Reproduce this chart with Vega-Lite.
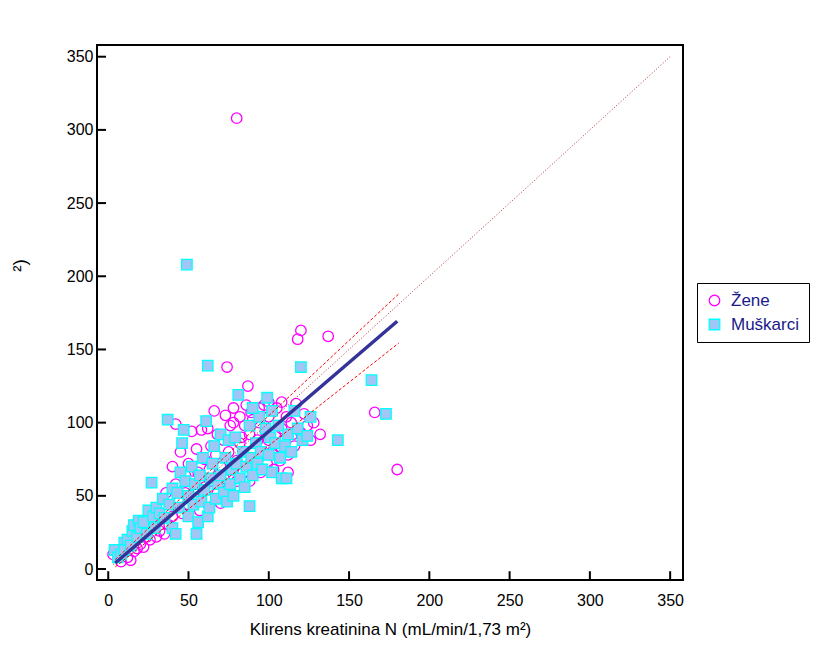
{
  "$schema": "https://vega.github.io/schema/vega-lite/v6.json",
  "autosize": "none",
  "width": 586,
  "height": 535,
  "padding": {"left": 97, "top": 45, "right": 144, "bottom": 90},
  "background": "white",
  "config": {
    "font": "Liberation Sans",
    "view": {"stroke": "black", "strokeWidth": 2}
  },
  "datasets": {
    "pts": [
      {"x":3,"y":10,"g":"Žene"},{"x":8,"y":5,"g":"Žene"},{"x":12,"y":8,"g":"Žene"},{"x":14,"y":6,"g":"Žene"},{"x":16,"y":12,"g":"Žene"},{"x":18,"y":14,"g":"Žene"},{"x":20,"y":17,"g":"Žene"},{"x":22,"y":15,"g":"Žene"},{"x":24,"y":22,"g":"Žene"},{"x":26,"y":20,"g":"Žene"},{"x":28,"y":30,"g":"Žene"},{"x":30,"y":34,"g":"Žene"},{"x":30,"y":22,"g":"Žene"},{"x":32,"y":26,"g":"Žene"},{"x":34,"y":44,"g":"Žene"},{"x":35,"y":24,"g":"Žene"},{"x":36,"y":52,"g":"Žene"},{"x":38,"y":30,"g":"Žene"},{"x":40,"y":70,"g":"Žene"},{"x":40,"y":36,"g":"Žene"},
      {"x":42,"y":99,"g":"Žene"},{"x":42,"y":58,"g":"Žene"},{"x":44,"y":46,"g":"Žene"},{"x":45,"y":80,"g":"Žene"},{"x":46,"y":38,"g":"Žene"},{"x":48,"y":64,"g":"Žene"},{"x":48,"y":52,"g":"Žene"},{"x":50,"y":72,"g":"Žene"},{"x":50,"y":44,"g":"Žene"},{"x":52,"y":94,"g":"Žene"},{"x":52,"y":60,"g":"Žene"},{"x":54,"y":48,"g":"Žene"},{"x":55,"y":82,"g":"Žene"},{"x":56,"y":66,"g":"Žene"},{"x":57,"y":40,"g":"Žene"},{"x":58,"y":95,"g":"Žene"},{"x":60,"y":75,"g":"Žene"},{"x":60,"y":56,"g":"Žene"},{"x":62,"y":96,"g":"Žene"},{"x":62,"y":49,"g":"Žene"},{"x":63,"y":68,"g":"Žene"},{"x":64,"y":84,"g":"Žene"},{"x":65,"y":60,"g":"Žene"},{"x":66,"y":108,"g":"Žene"},{"x":67,"y":78,"g":"Žene"},{"x":68,"y":52,"g":"Žene"},{"x":68,"y":92,"g":"Žene"},{"x":70,"y":70,"g":"Žene"},{"x":70,"y":45,"g":"Žene"},{"x":72,"y":88,"g":"Žene"},{"x":72,"y":62,"g":"Žene"},{"x":73,"y":105,"g":"Žene"},{"x":74,"y":138,"g":"Žene"},{"x":75,"y":80,"g":"Žene"},{"x":75,"y":55,"g":"Žene"},{"x":76,"y":98,"g":"Žene"},{"x":77,"y":68,"g":"Žene"},{"x":78,"y":100,"g":"Žene"},{"x":78,"y":110,"g":"Žene"},{"x":80,"y":308,"g":"Žene"},{"x":80,"y":74,"g":"Žene"},{"x":80,"y":60,"g":"Žene"},{"x":82,"y":104,"g":"Žene"},{"x":82,"y":86,"g":"Žene"},{"x":83,"y":90,"g":"Žene"},{"x":84,"y":66,"g":"Žene"},{"x":85,"y":98,"g":"Žene"},{"x":86,"y":76,"g":"Žene"},{"x":87,"y":125,"g":"Žene"},{"x":88,"y":92,"g":"Žene"},{"x":88,"y":60,"g":"Žene"},{"x":89,"y":107,"g":"Žene"},{"x":90,"y":80,"g":"Žene"},{"x":90,"y":102,"g":"Žene"},{"x":92,"y":70,"g":"Žene"},{"x":93,"y":88,"g":"Žene"},{"x":94,"y":100,"g":"Žene"},{"x":95,"y":66,"g":"Žene"},{"x":96,"y":80,"g":"Žene"},{"x":97,"y":112,"g":"Žene"},{"x":98,"y":94,"g":"Žene"},{"x":99,"y":72,"g":"Žene"},{"x":100,"y":88,"g":"Žene"},{"x":100,"y":104,"g":"Žene"},{"x":102,"y":80,"g":"Žene"},{"x":103,"y":68,"g":"Žene"},{"x":104,"y":92,"g":"Žene"},{"x":105,"y":110,"g":"Žene"},{"x":106,"y":84,"g":"Žene"},{"x":107,"y":74,"g":"Žene"},{"x":108,"y":96,"g":"Žene"},{"x":108,"y":114,"g":"Žene"},{"x":110,"y":88,"g":"Žene"},{"x":111,"y":104,"g":"Žene"},{"x":112,"y":78,"g":"Žene"},{"x":114,"y":100,"g":"Žene"},{"x":115,"y":92,"g":"Žene"},{"x":116,"y":84,"g":"Žene"},{"x":117,"y":113,"g":"Žene"},{"x":118,"y":157,"g":"Žene"},{"x":120,"y":163,"g":"Žene"},{"x":120,"y":93,"g":"Žene"},{"x":122,"y":106,"g":"Žene"},{"x":124,"y":98,"g":"Žene"},{"x":126,"y":88,"g":"Žene"},{"x":128,"y":100,"g":"Žene"},{"x":132,"y":92,"g":"Žene"},{"x":137,"y":159,"g":"Žene"},{"x":166,"y":107,"g":"Žene"},{"x":180,"y":68,"g":"Žene"},{"x":112,"y":66,"g":"Žene"},{"x":100,"y":114,"g":"Žene"},{"x":86,"y":112,"g":"Žene"},{"x":94,"y":110,"g":"Žene"},
      {"x":4,"y":13,"g":"Muškarci"},{"x":6,"y":8,"g":"Muškarci"},{"x":8,"y":10,"g":"Muškarci"},{"x":10,"y":18,"g":"Muškarci"},{"x":10,"y":13,"g":"Muškarci"},{"x":12,"y":20,"g":"Muškarci"},{"x":14,"y":16,"g":"Muškarci"},{"x":15,"y":26,"g":"Muškarci"},{"x":16,"y":30,"g":"Muškarci"},{"x":18,"y":22,"g":"Muškarci"},{"x":19,"y":33,"g":"Muškarci"},{"x":20,"y":28,"g":"Muškarci"},{"x":22,"y":32,"g":"Muškarci"},{"x":24,"y":24,"g":"Muškarci"},{"x":25,"y":40,"g":"Muškarci"},{"x":27,"y":59,"g":"Muškarci"},{"x":28,"y":36,"g":"Muškarci"},{"x":29,"y":28,"g":"Muškarci"},{"x":30,"y":42,"g":"Muškarci"},{"x":32,"y":38,"g":"Muškarci"},{"x":34,"y":48,"g":"Muškarci"},{"x":35,"y":35,"g":"Muškarci"},{"x":37,"y":102,"g":"Muškarci"},{"x":38,"y":44,"g":"Muškarci"},{"x":40,"y":55,"g":"Muškarci"},{"x":40,"y":28,"g":"Muškarci"},{"x":42,"y":24,"g":"Muškarci"},{"x":43,"y":52,"g":"Muškarci"},{"x":44,"y":42,"g":"Muškarci"},{"x":45,"y":66,"g":"Muškarci"},{"x":46,"y":86,"g":"Muškarci"},{"x":47,"y":95,"g":"Muškarci"},{"x":48,"y":60,"g":"Muškarci"},{"x":49,"y":208,"g":"Muškarci"},{"x":50,"y":50,"g":"Muškarci"},{"x":50,"y":36,"g":"Muškarci"},{"x":52,"y":70,"g":"Muškarci"},{"x":53,"y":44,"g":"Muškarci"},{"x":54,"y":58,"g":"Muškarci"},{"x":55,"y":24,"g":"Muškarci"},{"x":56,"y":32,"g":"Muškarci"},{"x":57,"y":64,"g":"Muškarci"},{"x":58,"y":46,"g":"Muškarci"},{"x":59,"y":76,"g":"Muškarci"},{"x":60,"y":54,"g":"Muškarci"},{"x":61,"y":101,"g":"Muškarci"},{"x":62,"y":139,"g":"Muškarci"},{"x":62,"y":36,"g":"Muškarci"},{"x":63,"y":42,"g":"Muškarci"},{"x":64,"y":62,"g":"Muškarci"},{"x":65,"y":72,"g":"Muškarci"},{"x":66,"y":84,"g":"Muškarci"},{"x":67,"y":48,"g":"Muškarci"},{"x":68,"y":58,"g":"Muškarci"},{"x":70,"y":92,"g":"Muškarci"},{"x":70,"y":64,"g":"Muškarci"},{"x":72,"y":52,"g":"Muškarci"},{"x":73,"y":76,"g":"Muškarci"},{"x":74,"y":46,"g":"Muškarci"},{"x":75,"y":88,"g":"Muškarci"},{"x":76,"y":58,"g":"Muškarci"},{"x":77,"y":68,"g":"Muškarci"},{"x":78,"y":50,"g":"Muškarci"},{"x":79,"y":90,"g":"Muškarci"},{"x":80,"y":72,"g":"Muškarci"},{"x":81,"y":119,"g":"Muškarci"},{"x":82,"y":62,"g":"Muškarci"},{"x":84,"y":80,"g":"Muškarci"},{"x":85,"y":56,"g":"Muškarci"},{"x":86,"y":70,"g":"Muškarci"},{"x":88,"y":43,"g":"Muškarci"},{"x":88,"y":98,"g":"Muškarci"},{"x":89,"y":76,"g":"Muškarci"},{"x":90,"y":64,"g":"Muškarci"},{"x":92,"y":86,"g":"Muškarci"},{"x":93,"y":72,"g":"Muškarci"},{"x":94,"y":104,"g":"Muškarci"},{"x":95,"y":80,"g":"Muškarci"},{"x":96,"y":68,"g":"Muškarci"},{"x":98,"y":96,"g":"Muškarci"},{"x":99,"y":117,"g":"Muškarci"},{"x":100,"y":78,"g":"Muškarci"},{"x":101,"y":90,"g":"Muškarci"},{"x":102,"y":66,"g":"Muškarci"},{"x":104,"y":86,"g":"Muškarci"},{"x":106,"y":98,"g":"Muškarci"},{"x":107,"y":76,"g":"Muškarci"},{"x":108,"y":62,"g":"Muškarci"},{"x":110,"y":84,"g":"Muškarci"},{"x":111,"y":62,"g":"Muškarci"},{"x":112,"y":92,"g":"Muškarci"},{"x":114,"y":80,"g":"Muškarci"},{"x":116,"y":108,"g":"Muškarci"},{"x":118,"y":96,"g":"Muškarci"},{"x":120,"y":138,"g":"Muškarci"},{"x":121,"y":88,"g":"Muškarci"},{"x":124,"y":91,"g":"Muškarci"},{"x":126,"y":104,"g":"Muškarci"},{"x":143,"y":88,"g":"Muškarci"},{"x":164,"y":129,"g":"Muškarci"},{"x":173,"y":106,"g":"Muškarci"},{"x":102,"y":108,"g":"Muškarci"},{"x":90,"y":110,"g":"Muškarci"}
    ],
    "lines": [
      {"x":3,"y":3,"line":"identity"},{"x":350,"y":350,"line":"identity"},
      {"x":4.4,"y":6.5,"line":"upper"},{"x":181,"y":188,"line":"upper"},
      {"x":4.4,"y":1.5,"line":"lower"},{"x":181,"y":154.4,"line":"lower"},
      {"x":4.4,"y":4.1,"line":"fit"},{"x":180,"y":169.3,"line":"fit"}
    ],
    "xticks": [
      {"x":0,"y":-7.5,"t":"x0"},{"x":0,"y":-1.5,"t":"x0"},
      {"x":50,"y":-7.5,"t":"x50"},{"x":50,"y":-1.5,"t":"x50"},
      {"x":100,"y":-7.5,"t":"x100"},{"x":100,"y":-1.5,"t":"x100"},
      {"x":150,"y":-7.5,"t":"x150"},{"x":150,"y":-1.5,"t":"x150"},
      {"x":200,"y":-7.5,"t":"x200"},{"x":200,"y":-1.5,"t":"x200"},
      {"x":250,"y":-7.5,"t":"x250"},{"x":250,"y":-1.5,"t":"x250"},
      {"x":300,"y":-7.5,"t":"x300"},{"x":300,"y":-1.5,"t":"x300"},
      {"x":350,"y":-7.5,"t":"x350"},{"x":350,"y":-1.5,"t":"x350"},
      {"x":-7,"y":0,"t":"y0"},{"x":-1.4,"y":0,"t":"y0"},
      {"x":-7,"y":50,"t":"y50"},{"x":-1.4,"y":50,"t":"y50"},
      {"x":-7,"y":100,"t":"y100"},{"x":-1.4,"y":100,"t":"y100"},
      {"x":-7,"y":150,"t":"y150"},{"x":-1.4,"y":150,"t":"y150"},
      {"x":-7,"y":200,"t":"y200"},{"x":-1.4,"y":200,"t":"y200"},
      {"x":-7,"y":250,"t":"y250"},{"x":-1.4,"y":250,"t":"y250"},
      {"x":-7,"y":300,"t":"y300"},{"x":-1.4,"y":300,"t":"y300"},
      {"x":-7,"y":350,"t":"y350"},{"x":-1.4,"y":350,"t":"y350"}
    ]
  },
  "encoding": {
    "x": {"field": "x", "type": "quantitative",
      "scale": {"domain": [-7, 358], "nice": false, "zero": false},
      "axis": {"values": [0,50,100,150,200,250,300,350],
        "domain": false, "ticks": false, "tickSize": 0,
        "labelPadding": 12, "labelFontSize": 16, "labelColor": "black", "labelFont": "Liberation Sans",
        "grid": false,
        "title": "Klirens kreatinina N (mL/min/1,73 m²)", "titleFontSize": 17, "titleFontWeight": "normal", "titleColor": "black", "titleFont": "Liberation Sans", "titlePadding": 13}},
    "y": {"field": "y", "type": "quantitative",
      "scale": {"domain": [-7.5, 358], "nice": false, "zero": false},
      "axis": {"values": [0,50,100,150,200,250,300,350],
        "domain": false, "ticks": false, "tickSize": 0,
        "labelPadding": 4, "labelFontSize": 16, "labelColor": "black", "labelFont": "Liberation Sans",
        "grid": false,
        "title": "²)", "titleFontSize": 19, "titleFontWeight": "normal", "titleColor": "black", "titleX": -68, "titleY": 220, "titleAngle": -90, "titleAlign": "center", "titleBaseline": "bottom"}}
  },
  "layer": [
    {
      "data": {"name": "pts"},
      "mark": {"type": "point", "filled": true, "strokeWidth": 1.3, "opacity": 1},
      "encoding": {
        "shape": {"field": "g", "type": "nominal",
          "scale": {"domain": ["Žene", "Muškarci"], "range": ["circle", "square"]},
          "legend": {"title": null, "orient": "none", "legendX": 600, "legendY": 238,
            "strokeColor": "black", "padding": 9,
            "labelFontSize": 17, "labelColor": "#1a1a8a", "labelFont": "Liberation Sans",
            "symbolSize": 110, "symbolStrokeWidth": 1.3, "rowPadding": 6, "labelOffset": 8,
            "encode": {"legend": {"update": {"strokeWidth": {"value": 1.5}}}}}},
        "stroke": {"field": "g", "type": "nominal",
          "scale": {"domain": ["Žene", "Muškarci"], "range": ["#ff00ff", "#00ffff"]}},
        "fill": {"field": "g", "type": "nominal",
          "scale": {"domain": ["Žene", "Muškarci"], "range": ["rgba(255,255,255,0)", "#9fc6f4"]}},
        "size": {"value": 110}
      }
    },
    {
      "data": {"name": "lines"},
      "transform": [{"filter": "datum.line === 'identity'"}],
      "mark": {"type": "line", "stroke": "#b03030", "strokeWidth": 1, "strokeDash": [1, 2]},
      "encoding": {"detail": {"field": "line"}}
    },
    {
      "data": {"name": "lines"},
      "transform": [{"filter": "datum.line === 'upper' || datum.line === 'lower'"}],
      "mark": {"type": "line", "stroke": "#ff0000", "strokeWidth": 1, "strokeDash": [3, 2]},
      "encoding": {"detail": {"field": "line"}}
    },
    {
      "data": {"name": "lines"},
      "transform": [{"filter": "datum.line === 'fit'"}],
      "mark": {"type": "line", "stroke": "#333399", "strokeWidth": 3.5},
      "encoding": {"detail": {"field": "line"}}
    },
    {
      "data": {"name": "xticks"},
      "mark": {"type": "line", "stroke": "black", "strokeWidth": 2},
      "encoding": {"detail": {"field": "t"}}
    }
  ]
}
